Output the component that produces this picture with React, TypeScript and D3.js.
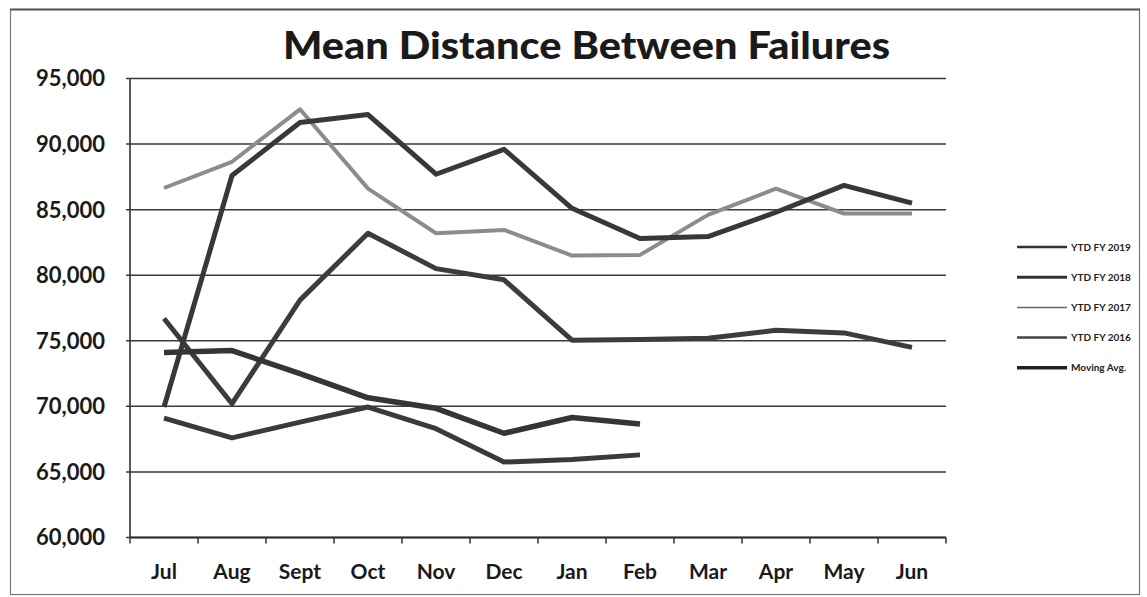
import React from "react";
import * as d3 from "d3";

const months = ["Jul", "Aug", "Sept", "Oct", "Nov", "Dec", "Jan", "Feb", "Mar", "Apr", "May", "Jun"];
const yTicks = [60000, 65000, 70000, 75000, 80000, 85000, 90000, 95000];

const fy2019 = [69100, 67600, 68800, 69950, 68300, 65750, 65950, 66300];
const fy2018 = [76700, 70200, 78100, 83200, 80500, 79650, 75050, 75100, 75200, 75800, 75600, 74500];
const fy2017 = [86650, 88650, 92650, 86600, 83200, 83450, 81500, 81550, 84600, 86600, 84700, 84700];
const fy2016 = [69950, 87600, 91650, 92250, 87700, 89600, 85100, 82800, 82950, 84800, 86850, 85500];
const movingAvg = [74100, 74250, 72500, 70650, 69850, 67950, 69150, 68650];

const seriesNames = ["YTD FY 2019", "YTD FY 2018", "YTD FY 2017", "YTD FY 2016", "Moving Avg."];

const series = [
  { name: seriesNames[0], values: fy2019, color: "#3a3a3a", width: 5 },
  { name: seriesNames[1], values: fy2018, color: "#3c3c3c", width: 5 },
  { name: seriesNames[2], values: fy2017, color: "#8c8c8c", width: 4 },
  { name: seriesNames[3], values: fy2016, color: "#383838", width: 5 },
  { name: seriesNames[4], values: movingAvg, color: "#353535", width: 5.5 },
];

const legendStyles = [
  { color: "#333", width: 2.5 },
  { color: "#333", width: 3 },
  { color: "#666", width: 1.5 },
  { color: "#444", width: 2.5 },
  { color: "#222", width: 3.5 },
];

export default function App() {
  const W = 1147;
  const H = 597;
  const left = 130;
  const right = 946;
  const top = 78.5;
  const bottom = 537.5;

  const x = d3.scaleBand<string>().domain(months).range([left, right]).padding(0);
  const y = d3.scaleLinear().domain([60000, 95000]).range([bottom, top]);
  const cx = (i: number) => (x(months[i]) as number) + x.bandwidth() / 2;

  const line = d3
    .line<number>()
    .x((_, i) => cx(i))
    .y((d) => y(d));

  const fmt = d3.format(",");
  const font = "Lato, 'Open Sans', sans-serif";

  return (
    <svg width={W} height={H} style={{ position: "absolute", left: 0, top: 0, background: "#fff" }}>
      <rect x={10.5} y={9.5} width={1129} height={585} fill="none" stroke="#777" strokeWidth={1.2} />
      <line x1={10} x2={1140} y1={9.5} y2={9.5} stroke="#555" strokeWidth={2} />

      <text
        x={586.5}
        y={59}
        textAnchor="middle"
        fontFamily={font}
        fontWeight={900}
        fontSize={38}
        fill="#1a1a1a"
        textLength={607}
        lengthAdjust="spacingAndGlyphs"
      >
        Mean Distance Between Failures
      </text>

      {yTicks.map((t) => (
        <g key={t}>
          <line x1={left - 4} x2={right} y1={y(t)} y2={y(t)} stroke="#3a3a3a" strokeWidth={1.5} />
          <text
            x={105}
            y={y(t)}
            dy="0.36em"
            textAnchor="end"
            fontFamily={font}
            fontWeight={700}
            fontSize={22}
            fill="#1a1a1a"
          >
            {fmt(t)}
          </text>
        </g>
      ))}

      <line x1={left} x2={left} y1={top} y2={bottom} stroke="#333" strokeWidth={1.6} />
      <line x1={left} x2={right} y1={bottom} y2={bottom} stroke="#333" strokeWidth={2} />
      {months.map((m) => (
        <line
          key={"t" + m}
          x1={x(m) as number}
          x2={x(m) as number}
          y1={bottom}
          y2={bottom + 6}
          stroke="#333"
          strokeWidth={1.5}
        />
      ))}
      <line x1={right} x2={right} y1={bottom} y2={bottom + 6} stroke="#333" strokeWidth={1.5} />

      {months.map((m, i) => (
        <text
          key={m}
          x={cx(i)}
          y={579}
          textAnchor="middle"
          fontFamily={font}
          fontWeight={700}
          fontSize={21}
          fill="#1a1a1a"
        >
          {m}
        </text>
      ))}

      {series.map((s) => (
        <path
          key={s.name}
          d={line(s.values) || ""}
          fill="none"
          stroke={s.color}
          strokeWidth={s.width}
          strokeLinejoin="round"
          strokeLinecap="butt"
        />
      ))}

      {series.map((s, i) => {
        const ly = 247 + i * 30.2;
        return (
          <g key={"lg" + s.name}>
            <line x1={1017} x2={1067} y1={ly} y2={ly} stroke={legendStyles[i].color} strokeWidth={legendStyles[i].width} />
            <text
              x={1071}
              y={ly}
              dy="0.35em"
              fontFamily={font}
              fontWeight={700}
              fontSize={10}
              fill="#222"
            >
              {s.name}
            </text>
          </g>
        );
      })}
    </svg>
  );
}
